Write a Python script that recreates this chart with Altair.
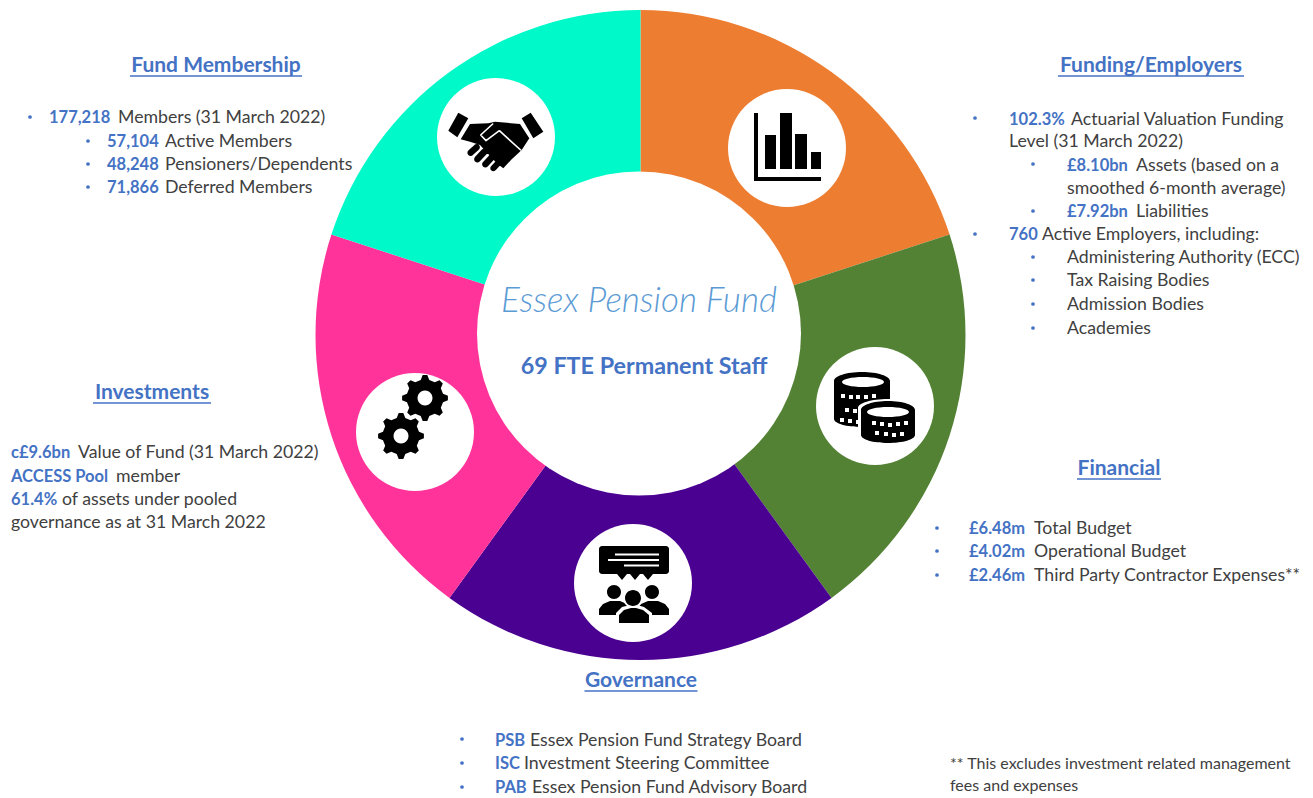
import math
import altair as alt
import pandas as pd

# ---- ring ----
sections = ["Funding/Employers", "Financial", "Governance", "Investments", "Fund Membership"]
shares = [20, 20, 20, 20, 20]
ring_colors = ["#ED7D31", "#548235", "#4A0090", "#FF3399", "#00F9C8"]

BLUE = "#4472C4"
GREY = "#404040"

# ---- text: (x, y, text) ----
headings = [("Fund Membership", 216, 65, 172), ("Funding/Employers", 1151, 65, 186),
            ("Investments", 152, 392, 118), ("Financial", 1119, 468, 84), ("Governance", 641, 680, 113)]
bold_texts = [
    ("177,218", 49, 117), ("57,104", 107, 141), ("48,248", 107, 164), ("71,866", 107, 187),
    ("102.3%", 1009, 119), ("£8.10bn", 1067, 165), ("£7.92bn", 1067, 211), ("760", 1009, 234),
    ("c£9.6bn", 11, 452), ("ACCESS Pool", 11, 476), ("61.4%", 11, 499),
    ("£6.48m", 969, 528), ("£4.02m", 969, 551), ("£2.46m", 969, 575),
    ("PSB", 495, 740), ("ISC", 495, 763), ("PAB", 495, 787),
]
plain_texts = [
    ("Members (31 March 2022)", 118, 117), ("Active Members", 165, 141),
    ("Pensioners/Dependents", 165, 164), ("Deferred Members", 165, 187),
    ("Actuarial Valuation Funding", 1071, 119), ("Level (31 March 2022)", 1009, 141),
    ("Assets (based on a", 1136, 165), ("smoothed 6-month average)", 1067, 188),
    ("Liabilities", 1136, 211), ("Active Employers, including:", 1042, 234),
    ("Administering Authority (ECC)", 1067, 257), ("Tax Raising Bodies", 1067, 280),
    ("Admission Bodies", 1067, 304), ("Academies", 1067, 328),
    ("Value of Fund (31 March 2022)", 78, 452), ("member", 116, 476),
    ("of assets under pooled", 62, 499), ("governance as at 31 March 2022", 11, 522),
    ("Total Budget", 1034, 528), ("Operational Budget", 1034, 551),
    ("Third Party Contractor Expenses**", 1034, 575),
    ("Essex Pension Fund Strategy Board", 530, 740), ("Investment Steering Committee", 524, 763),
    ("Essex Pension Fund Advisory Board", 532, 787),
]
foot_texts = [("** This excludes investment related management", 950, 763), ("fees and expenses", 950, 785)]
bullets = [(30, 117), (88, 141), (88, 164), (88, 187),
           (975, 118), (1033, 164), (1033, 211), (975, 234), (1033, 257), (1033, 280), (1033, 304), (1033, 328),
           (937, 528), (937, 551), (937, 575), (462, 739), (462, 763), (462, 787)]
circles = [(787, 148), (875, 406), (633, 583), (415, 432), (496, 137)]

SX = alt.Scale(domain=[8, 1305], range=[0, 1297])
SY = alt.Scale(domain=[796, 8], range=[788, 0])
X = alt.X("x:Q", scale=SX, axis=None)
Y = alt.Y("y:Q", scale=SY, axis=None)


# ---- icon outlines (all sub-paths wound the same way so overlaps stay filled) ----
def poly(pts, c):
    return "M" + "L".join(f"{x - c[0]:.1f},{y - c[1]:.1f}" for x, y in pts) + "Z"


def rect(x0, y0, x1, y1, c):
    return poly([(x0, y0), (x1, y0), (x1, y1), (x0, y1)], c)


def seg(x0, y0, x1, y1, w, c):
    d = math.hypot(x1 - x0, y1 - y0)
    nx, ny = -(y1 - y0) / d * w / 2, (x1 - x0) / d * w / 2
    return poly([(x0 - nx, y0 - ny), (x1 - nx, y1 - ny), (x1 + nx, y1 + ny), (x0 + nx, y0 + ny)], c)


def ell(cx, cy, rx, ry, c):
    return (f"M{cx - rx - c[0]:.1f},{cy - c[1]:.1f}A{rx},{ry} 0 1 1 {cx + rx - c[0]:.1f},{cy - c[1]:.1f}"
            f"A{rx},{ry} 0 1 1 {cx - rx - c[0]:.1f},{cy - c[1]:.1f}Z")


def cap(x0, y0, x1, y1, w, c):
    return seg(x0, y0, x1, y1, w, c) + ell(x0, y0, w / 2, w / 2, c) + ell(x1, y1, w / 2, w / 2, c)


def gear(cx, cy, ro, ri, hole, c, teeth=8, rot=0.0):
    pts = []
    w = 2 * math.pi / teeth
    for i in range(teeth):
        a = rot + i * w
        for da, r in [(-0.30, ri), (-0.13, ro), (0.13, ro), (0.30, ri)]:
            pts.append((cx + r * math.cos(a + da * w), cy + r * math.sin(a + da * w)))
    hole_pts = [(cx + hole * math.cos(-k * math.pi / 12), cy + hole * math.sin(-k * math.pi / 12)) for k in range(24)]
    return poly(pts, c) + poly(hole_pts, c)


def hz(x, y):  # handshake outline
    return (440 + x / 3, 100 + y / 3)


c_bar, c_coin, c_ppl, c_gear, c_hand = circles

bar_black = "".join([
    rect(754, 113, 758, 181, c_bar), rect(754, 177, 821, 181, c_bar),
    rect(765, 135, 776, 169, c_bar), rect(780, 113, 792, 169, c_bar),
    rect(795, 134, 807, 169, c_bar), rect(811, 152, 821, 169, c_bar),
])
gear_black = gear(425, 398, 23, 18.5, 7.5, c_gear) + gear(401, 436, 23, 18.5, 7.5, c_gear)

hand_black = "".join([
    poly([hz(*p) for p in [(55, 38), (85, 55), (52, 112), (25, 92)]], c_hand),
    poly([hz(*p) for p in [(272, 38), (310, 95), (280, 115), (245, 55)]], c_hand),
    poly([hz(*p) for p in [(90, 72), (145, 70), (165, 65), (240, 72), (268, 115), (245, 150), (215, 178),
                           (190, 205), (170, 190), (120, 135), (90, 125), (62, 118)]], c_hand),
    cap(*hz(110, 142), *hz(92, 158), 6.5, c_hand), cap(*hz(133, 155), *hz(112, 178), 6.5, c_hand),
    cap(*hz(155, 172), *hz(136, 193), 6.5, c_hand), cap(*hz(178, 185), *hz(160, 205), 6, c_hand),
])
hand_white = "".join([
    cap(*hz(122, 105), *hz(158, 72), 1.6, c_hand), cap(*hz(122, 105), *hz(138, 122), 1.6, c_hand),
    cap(*hz(138, 122), *hz(178, 92), 1.6, c_hand), cap(*hz(178, 92), *hz(242, 150), 1.6, c_hand),
])

ppl_black = "".join([
    rect(599, 549, 669, 571, c_ppl), rect(602, 546, 666, 574, c_ppl),
    ell(602, 549, 3, 3, c_ppl), ell(666, 549, 3, 3, c_ppl), ell(602, 571, 3, 3, c_ppl), ell(666, 571, 3, 3, c_ppl),
    poly([(617, 574), (627, 574), (622, 580)], c_ppl), poly([(630, 574), (640, 574), (635, 580)], c_ppl),
    poly([(643, 574), (653, 574), (648, 580)], c_ppl),
    ell(614, 592, 7, 7, c_ppl), ell(652, 592, 7, 7, c_ppl),
    poly([(599, 615), (599, 609), (603, 604), (610, 601), (620, 601), (627, 604), (632, 610), (632, 615)], c_ppl),
    poly([(636, 615), (636, 610), (641, 604), (648, 601), (658, 601), (665, 604), (669, 609), (669, 615)], c_ppl),
])
ppl_white = "".join([
    rect(615, 553.5, 659, 555.5, c_ppl), rect(608, 559, 659, 561, c_ppl), rect(624, 564.5, 659, 566.5, c_ppl),
    ell(633, 598, 10, 10, c_ppl),
    poly([(616, 625), (616, 613), (622, 607), (630, 605), (637, 605), (644, 607), (652, 613), (652, 625)], c_ppl),
])
ppl_front = ell(633, 598, 8, 8, c_ppl) + poly(
    [(619, 623), (619, 615), (624, 610), (631, 608), (636, 608), (643, 610), (649, 615), (649, 623)], c_ppl)


def coin_stack(cx, top, rx, bottom, c):
    return rect(cx - rx, top + 9, cx + rx, bottom - 8, c) + ell(cx, top + 9, rx, 9, c) + ell(cx, bottom - 8, rx, 8, c)


def white_dots(points, c):
    return "".join(rect(x - 2, y - 2, x + 2, y + 2, c) for x, y in points)


coin_layers = [
    (coin_stack(862, 372, 28, 427, c_coin), "#000000"),
    (ell(863, 382, 21, 5, c_coin) + white_dots(
        [(843, 396), (851, 397), (858, 397), (866, 397), (874, 396), (847, 410), (855, 411), (842, 420), (850, 421),
         (858, 422)], c_coin), "#FFFFFF"),
    (coin_stack(888, 399, 30, 445, c_coin), "#FFFFFF"),
    (coin_stack(888, 401, 27, 443, c_coin), "#000000"),
    (ell(888, 412, 21, 5, c_coin) + white_dots(
        [(874, 423), (882, 424), (890, 425), (898, 424), (906, 423), (877, 433), (886, 434), (894, 435), (902, 434)],
        c_coin), "#FFFFFF"),
]

icon_layers = [
    (bar_black, c_bar, "#000000"), (gear_black, c_gear, "#000000"),
    (hand_black, c_hand, "#000000"), (hand_white, c_hand, "#FFFFFF"),
    (ppl_black, c_ppl, "#000000"), (ppl_white, c_ppl, "#FFFFFF"), (ppl_front, c_ppl, "#000000"),
] + [(d, c_coin, col) for d, col in coin_layers]


def frame(rows, cols):
    return pd.DataFrame(rows, columns=cols)


ring = alt.Chart(pd.DataFrame({"section": sections, "share": shares, "idx": list(range(5))})).mark_arc(
    innerRadius=150, outerRadius=325).encode(
    theta=alt.Theta("share:Q", stack=True),
    color=alt.Color("section:N", sort=None, scale=alt.Scale(domain=sections, range=ring_colors), legend=None),
    order=alt.Order("idx:Q"),
    x=alt.value(632.5), y=alt.value(327),
)

hole = alt.Chart(pd.DataFrame({"x": [639], "y": [333.5]})).mark_point(
    filled=True, opacity=1, color="#FFFFFF", size=324 ** 2, shape="circle").encode(x=X, y=Y)

disc = alt.Chart(frame(circles, ["x", "y"])).mark_point(
    filled=True, opacity=1, color="#FFFFFF", size=118 ** 2, shape="circle").encode(x=X, y=Y)

icons = [
    alt.Chart(pd.DataFrame({"x": [c[0]], "y": [c[1]]})).mark_point(
        filled=True, opacity=1, color=col, size=4, shape=d, strokeWidth=0).encode(x=X, y=Y)
    for d, c, col in icon_layers
]

txt_enc = dict(x=X, y=Y, text="text:N")
bold = alt.Chart(frame(bold_texts, ["text", "x", "y"])).mark_text(
    font="Lato", fontSize=16.5, fontWeight="bold", color=BLUE, align="left", baseline="middle", dy=1).encode(**txt_enc)
plain = alt.Chart(frame(plain_texts, ["text", "x", "y"])).mark_text(
    font="Lato", fontSize=17.7, color=GREY, align="left", baseline="middle", dy=1).encode(**txt_enc)
foot = alt.Chart(frame(foot_texts, ["text", "x", "y"])).mark_text(
    font="Lato", fontSize=16, color=GREY, align="left", baseline="middle", dy=1).encode(**txt_enc)

hd = frame(headings, ["text", "x", "y", "w"])
hd["x0"] = hd["x"] - hd["w"] / 2
hd["x1"] = hd["x"] + hd["w"] / 2
hd["yu"] = hd["y"] + 11
head = alt.Chart(hd).mark_text(
    font="Lato", fontSize=21, fontWeight="bold", color=BLUE, align="center", baseline="middle", dy=1).encode(**txt_enc)
under = alt.Chart(hd).mark_rule(color=BLUE, strokeWidth=1.5).encode(
    x=alt.X("x0:Q", scale=SX, axis=None), x2="x1:Q", y=alt.Y("yu:Q", scale=SY, axis=None))

dots = alt.Chart(frame(bullets, ["x", "y"])).mark_point(
    filled=True, opacity=1, color=BLUE, size=14, shape="circle").encode(x=X, y=Y)

title1 = alt.Chart(pd.DataFrame({"text": ["Essex Pension Fund"], "x": [639], "y": [301]})).mark_text(
    font="Lato", fontSize=35, fontStyle="italic", fontWeight=300, color="#5B9BD5", align="center", baseline="middle"
).encode(**txt_enc)
title2 = alt.Chart(pd.DataFrame({"text": ["69 FTE Permanent Staff"], "x": [644], "y": [366]})).mark_text(
    font="Lato", fontSize=23.3, fontWeight="bold", color=BLUE, align="center", baseline="middle", dy=1
).encode(**txt_enc)

chart = alt.layer(
    ring, hole, disc, *icons, dots, bold, plain, foot, head, under, title1, title2
).properties(width=1297, height=788, padding=0, background="#FFFFFF").configure_view(stroke=None)

chart.save("out.html", embed_options={"renderer": "svg", "actions": False})
